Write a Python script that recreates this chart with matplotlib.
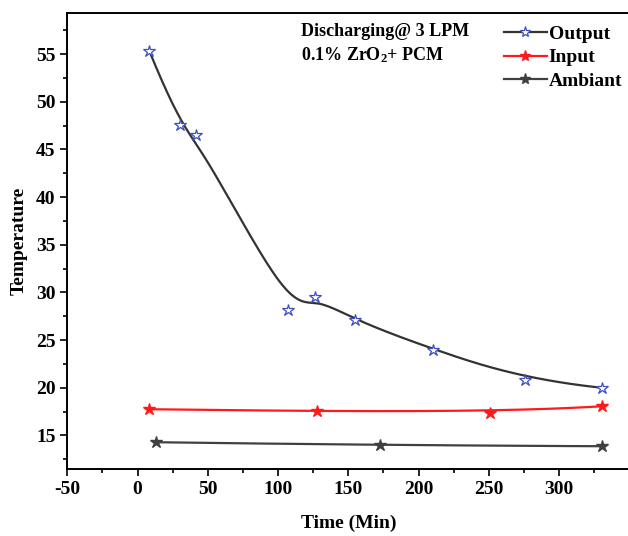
import numpy as np
import matplotlib
matplotlib.use("Agg")
import matplotlib.pyplot as plt

plt.rcParams['font.family'] = 'Liberation Serif'
plt.rcParams['font.weight'] = 'bold'
plt.rcParams['axes.labelweight'] = 'bold'
plt.rcParams['axes.unicode_minus'] = False
plt.rcParams['mathtext.fontset'] = 'custom'
plt.rcParams['mathtext.bf'] = 'Liberation Serif:bold'
plt.rcParams['mathtext.rm'] = 'Liberation Serif:bold'
plt.rcParams['mathtext.default'] = 'bf'

# datos
t_out = [8.3, 29.9, 41.6, 107.4, 126.4, 154.7, 210.3, 275.6, 330.3]
T_out = [55.35, 47.55, 46.53, 28.14, 29.47, 27.09, 24.0, 20.86, 20.0]
t_in = [8.4, 127.6, 250.8, 330.3]
T_in = [17.75, 17.54, 17.33, 18.06]
t_amb = [13.1, 172.3, 330.3]
T_amb = [14.29, 13.97, 13.87]


def bspline(xs, ys, n=300):
    # B-spline cubica con los puntos como vertices de control (como Origin)
    P = np.column_stack([xs, ys])
    m = len(P)
    k = min(3, m - 1)
    knots = np.concatenate([np.zeros(k), np.linspace(0, 1, m - k + 1), np.ones(k)])
    u = np.linspace(0, 1, n)
    u[-1] = 1 - 1e-9

    def N(i, p, u):
        if p == 0:
            return ((knots[i] <= u) & (u < knots[i + 1])).astype(float)
        a = 0.0
        if knots[i + p] != knots[i]:
            a = (u - knots[i]) / (knots[i + p] - knots[i]) * N(i, p - 1, u)
        b = 0.0
        if knots[i + p + 1] != knots[i + 1]:
            b = (knots[i + p + 1] - u) / (knots[i + p + 1] - knots[i + 1]) * N(i + 1, p - 1, u)
        return a + b

    C = sum(N(i, k, u)[:, None] * P[i] for i in range(m))
    return C[:, 0], C[:, 1]


fig = plt.figure(figsize=(6.28, 5.36), dpi=100)
ax = fig.add_axes([67.3 / 628, 1 - 469.3 / 536, (629.4 - 67.3) / 628, (469.3 - 13) / 536])

x, y = bspline(t_out, T_out)
ax.plot(x, y, color='#333333', lw=1.6)
ax.plot(t_out, T_out, ls='none', marker='*', ms=9, mfc='white', mec='#3f4fbf', mew=0.9)
x, y = bspline(t_in, T_in)
ax.plot(x, y, color='#ff1a1a', lw=1.6)
ax.plot(t_in, T_in, ls='none', marker='*', ms=9, color='#ff1a1a')
x, y = bspline(t_amb, T_amb)
ax.plot(x, y, color='#404040', lw=1.6)
ax.plot(t_amb, T_amb, ls='none', marker='*', ms=9, color='#404040')

# leyenda
h1, = ax.plot([], [], color='#333333', lw=1.6, marker='*', ms=8, mfc='white', mec='#3f4fbf', mew=0.9)
h2, = ax.plot([], [], color='#ff1a1a', lw=1.6, marker='*', ms=8)
h3, = ax.plot([], [], color='#404040', lw=1.6, marker='*', ms=8)
ax.legend([h1, h2, h3], ['Output', 'Input', 'Ambiant'], loc='upper left',
          bbox_to_anchor=(0.763, 0.99), frameon=False, fontsize=14,
          handlelength=2.2, handletextpad=0.1, labelspacing=0.3, borderaxespad=0)

ax.text(0.415, 0.977, 'Discharging@ 3 LPM', transform=ax.transAxes, fontsize=13, va='top')
ax.text(0.415, 0.929, r'0.1% ZrO$_2$+ PCM', transform=ax.transAxes, fontsize=13, va='top')

ax.set_xlim(-50, 350)
ax.set_ylim(11.45, 59.3)
ax.set_xticks(np.arange(-50, 301, 50))
ax.set_xticks(np.arange(-50, 351, 25), minor=True)
ax.set_yticks(np.arange(15, 56, 5))
ax.set_yticks(np.arange(12.5, 59, 2.5), minor=True)
ax.tick_params(which='major', direction='out', length=5, width=1.2, labelsize=14)
ax.tick_params(which='minor', direction='out', length=3, width=1.2)
for s in ['left', 'bottom', 'top']:
    ax.spines[s].set_linewidth(1.4)
ax.spines['right'].set_visible(False)
ax.set_xlabel('Time (Min)', fontsize=14, fontweight='bold', labelpad=12)
ax.set_ylabel('Temperature', fontsize=14, fontweight='bold', labelpad=6)

fig.savefig('out.png', dpi=100)
